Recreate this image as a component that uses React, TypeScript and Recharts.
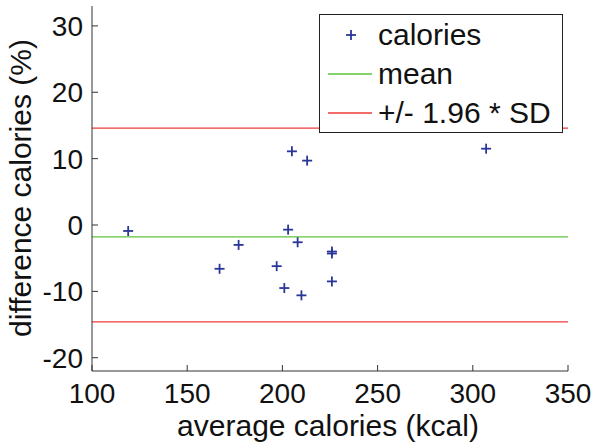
import React from "react";
import {
  ScatterChart,
  Scatter,
  XAxis,
  YAxis,
  ReferenceLine,
  Legend,
} from "recharts";

const avgCalories = [119, 167, 177, 197, 201, 203, 205, 208, 210, 213, 226, 226, 226, 307];
const diffPercent = [-0.9, -6.6, -3.0, -6.2, -9.5, -0.7, 11.1, -2.6, -10.6, 9.7, -4.0, -4.3, -8.5, 11.5];
const meanDiff = -1.8;
const upperLimit = 14.6;
const lowerLimit = -14.6;

const xTicks = [100, 150, 200, 250, 300, 350];
const yTicks = [-20, -10, 0, 10, 20, 30];

const FONT = '"Liberation Sans", Arial, Helvetica, sans-serif';
const AXIS = "#333";
const BLUE = "#2a379a";
const GREEN = "#5cc43c";
const RED = "#f03a3a";

const points = avgCalories.map((x, i) => ({ x, y: diffPercent[i] }));

const BottomTick = ({ x, y, payload }: any) => (
  <g>
    <line x1={x} x2={x} y1={y} y2={y - 6} stroke={AXIS} />
    <text x={x} y={y + 32} textAnchor="middle" fontSize={28} fontFamily={FONT} fill="#111">
      {payload.value}
    </text>
  </g>
);

const LeftTick = ({ x, y, payload }: any) => (
  <g>
    <line x1={x} x2={x + 6} y1={y} y2={y} stroke={AXIS} />
    <text x={x - 9} y={y + 10} textAnchor="end" fontSize={28} fontFamily={FONT} fill="#111">
      {payload.value}
    </text>
  </g>
);

const TopTick = ({ x, y }: any) => (
  <line x1={x} x2={x} y1={y} y2={y + 6} stroke={AXIS} />
);

const RightTick = ({ x, y }: any) => (
  <line x1={x} x2={x - 6} y1={y} y2={y} stroke={AXIS} />
);

const Plus = ({ cx, cy }: any) => (
  <g stroke={BLUE} strokeWidth={1.8}>
    <line x1={cx - 5} x2={cx + 5} y1={cy} y2={cy} />
    <line x1={cx} x2={cx} y1={cy - 5} y2={cy + 5} />
  </g>
);

const legendItems = [
  { label: "calories", kind: "marker", color: BLUE },
  { label: "mean", kind: "line", color: GREEN },
  { label: "+/- 1.96 * SD", kind: "line", color: RED },
];

const LegendBox = () => (
  <svg width={244} height={119} style={{ display: "block" }}>
    <rect x={0.5} y={0.5} width={243} height={118} fill="#fff" stroke="#222" />
    {legendItems.map((it, i) => {
      const cy = 21 + i * 39;
      return (
        <g key={it.label}>
          {it.kind === "marker" ? (
            <Plus cx={32} cy={cy} />
          ) : (
            <line x1={9} x2={53} y1={cy} y2={cy} stroke={it.color} strokeWidth={1.3} />
          )}
          <text x={59} y={cy + 10} fontSize={30} fontFamily={FONT} fill="#111">
            {it.label}
          </text>
        </g>
      );
    })}
  </svg>
);

export default function App() {
  return (
    <div style={{ position: "absolute", left: 0, top: 0, background: "#fff" }}>
      <ScatterChart
        width={601}
        height={448}
        margin={{ top: 6, right: 33, bottom: 0, left: 0 }}
      >
        <XAxis
          xAxisId="bottom"
          dataKey="x"
          type="number"
          domain={[100, 350]}
          ticks={xTicks}
          height={77}
          tickSize={0}
          tickMargin={0}
          tickLine={false}
          axisLine={{ stroke: AXIS }}
          tick={<BottomTick />}
          interval={0}
        />
        <XAxis
          xAxisId="top"
          orientation="top"
          dataKey="x"
          type="number"
          domain={[100, 350]}
          ticks={xTicks}
          height={0}
          tickSize={0}
          tickMargin={0}
          tickLine={false}
          axisLine={{ stroke: AXIS }}
          tick={<TopTick />}
          interval={0}
        />
        <YAxis
          yAxisId="left"
          dataKey="y"
          type="number"
          domain={[-22, 33]}
          ticks={yTicks}
          width={92}
          tickSize={0}
          tickMargin={0}
          tickLine={false}
          axisLine={{ stroke: AXIS }}
          tick={<LeftTick />}
          interval={0}
          label={{
            value: "difference calories (%)",
            content: () => (
              <text
                x={31}
                y={188}
                transform="rotate(-90 31 188)"
                textAnchor="middle"
                fontSize={30}
                fontFamily={FONT}
                fill="#111"
              >
                difference calories (%)
              </text>
            ),
          }}
        />
        <YAxis
          yAxisId="right"
          orientation="right"
          dataKey="y"
          type="number"
          domain={[-22, 33]}
          ticks={yTicks}
          width={0}
          tickSize={0}
          tickMargin={0}
          tickLine={false}
          axisLine={{ stroke: AXIS }}
          tick={<RightTick />}
          interval={0}
        />
        <ReferenceLine xAxisId="bottom" yAxisId="left" y={upperLimit} stroke={RED} strokeWidth={1.3} />
        <ReferenceLine xAxisId="bottom" yAxisId="left" y={lowerLimit} stroke={RED} strokeWidth={1.3} />
        <ReferenceLine xAxisId="bottom" yAxisId="left" y={meanDiff} stroke={GREEN} strokeWidth={1.3} />
        <Scatter
          xAxisId="bottom"
          yAxisId="left"
          name="calories"
          data={points}
          shape={<Plus />}
          isAnimationActive={false}
        />
        <Legend
          layout="vertical"
          align="center"
          verticalAlign="middle"
          content={<LegendBox />}
          wrapperStyle={{ position: "absolute", left: 319, top: 14, width: 244, height: 119 }}
        />
        <text x={328} y={436} textAnchor="middle" fontSize={30} fontFamily={FONT} fill="#111">
          average calories (kcal)
        </text>
      </ScatterChart>
    </div>
  );
}
